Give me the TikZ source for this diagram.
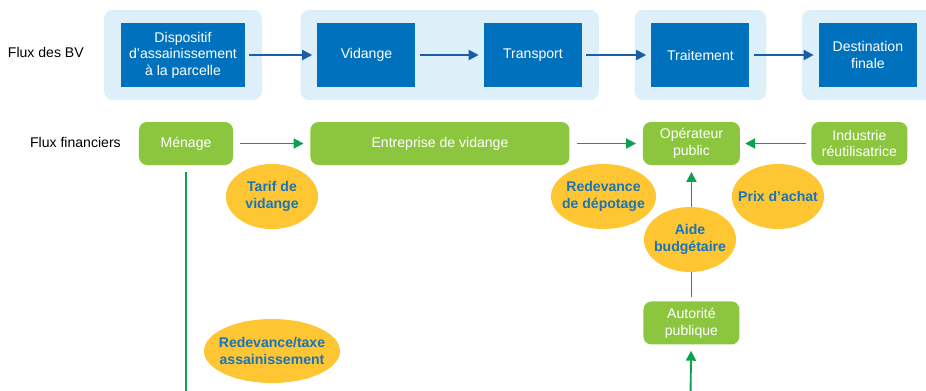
\documentclass[tikz,border=0pt]{standalone}
\usepackage{fontspec}
\setmainfont{Liberation Sans}
\usepackage{xcolor}
\usetikzlibrary{arrows.meta,positioning,fit,shapes.geometric,backgrounds}

\definecolor{bvblue}{HTML}{0071BC}
\definecolor{bvpale}{HTML}{DDF0FA}
\definecolor{bvline}{HTML}{1C5DA8}
\definecolor{fingreen}{HTML}{8CC63F}
\definecolor{finline}{HTML}{0AA24F}
\definecolor{tagyellow}{HTML}{FEC633}
\definecolor{tagtext}{HTML}{1B73B8}

\begin{document}
\begin{tikzpicture}[
  x=0.03cm, y=-0.03cm,
  txt/.style={font=\fontsize{12}{14.2}\selectfont, align=center},
  bvbox/.style={txt, rectangle, fill=bvblue, text=white, minimum width=2.94cm, minimum height=1.92cm, inner sep=0pt},
  finbox/.style={txt, rectangle, rounded corners=0.24cm, fill=fingreen, text=white, minimum height=1.29cm, inner sep=0pt},
  tag/.style={txt, ellipse, fill=tagyellow, text=tagtext, font=\fontsize{12}{14.2}\selectfont\bfseries, inner xsep=-0.25cm, inner ysep=0pt, minimum width=2.76cm, minimum height=1.95cm},
  stage/.style={rectangle, rounded corners=0.27cm, fill=bvpale, inner xsep=0.5cm, inner ysep=0.39cm},
  bvarrow/.style={draw=bvline, line width=1.6pt, -{Triangle[length=0.3cm,width=0.3cm]}, shorten <=0.12cm, shorten >=0.15cm},
  finarrow/.style={draw=finline, line width=1.6pt, -{Triangle[length=0.3cm,width=0.3cm]}, shorten <=0.21cm, shorten >=0.2cm}
]
\useasboundingbox (0,0) rectangle (926,390);

% Nodes
\node[bvbox, minimum width=3.72cm] (dispositif) at (183,55) {Dispositif\\d’assainissement\\à la parcelle};
\node[bvbox, right=2.16cm of dispositif] (vidange) {Vidange};
\node[bvbox, right=2.04cm of vidange] (transport) {Transport};
\node[bvbox, right=2.07cm of transport] (traitement) {Traitement};
\node[bvbox, right=2.07cm of traitement] (destination) {Destination\\finale};

\node[finbox, minimum width=2.82cm] (menage) at (186,143.5) {Ménage};
\node[finbox, minimum width=7.77cm, right=2.31cm of menage] (entreprise) {Entreprise de vidange};
\node[finbox, minimum width=2.91cm, right=2.19cm of entreprise] (operateur) {Opérateur\\public};
\node[finbox, minimum width=2.88cm, right=2.13cm of operateur] (industrie) {Industrie\\réutilisatrice};
\node[finbox, minimum width=2.88cm, below=4.08cm of operateur] (autorite) {Autorité\\publique};

\node[txt, anchor=east, inner sep=0pt] (fluxbv) at (84,52) {Flux des BV};
\node[txt, anchor=east, inner sep=0pt] (fluxfin) at (121,142) {Flux financiers};

\coordinate (menbot) at (186,396);
\coordinate (autbot) at (690.5,396);

% Stages
\begin{scope}[on background layer]
  \node[stage, fit=(dispositif)] (stage1) {};
  \node[stage, fit=(vidange) (transport)] (stage2) {};
  \node[stage, fit=(traitement)] (stage3) {};
  \node[stage, fit=(destination)] (stage4) {};
\end{scope}

% Edges
\draw[bvarrow] (dispositif) -- (vidange);
\draw[bvarrow] (vidange) -- (transport);
\draw[bvarrow] (transport) -- (traitement);
\draw[bvarrow] (traitement) -- (destination);

\draw[finarrow] (menage) -- (entreprise);
\draw[finarrow] (entreprise) -- (operateur);
\draw[finarrow, shorten <=0.15cm, shorten >=0.15cm] (industrie) -- (operateur);
\draw[finarrow, shorten <=0.12cm] (autorite) -- (operateur);
\draw[finarrow, shorten <=0pt, shorten >=0.18cm] (autbot) -- (autorite);
\draw[draw=finline, line width=1.6pt, shorten <=0.21cm] (menage) -- (menbot);

% Tags
\node[tag] (tarif) at (272,196.5) {Tarif de\\vidange};
\node[tag, minimum width=3.15cm] (depotage) at (603.5,196.5) {Redevance\\de dépotage};
\node[tag] (prix) at (778,196.5) {Prix d’achat};
\node[tag] (aide) at (690,239.5) {Aide\\budgétaire};
\node[tag, minimum width=4.08cm, minimum height=1.92cm] (taxe) at (272,351) {Redevance/taxe\\assainissement};

\end{tikzpicture}
\end{document}
